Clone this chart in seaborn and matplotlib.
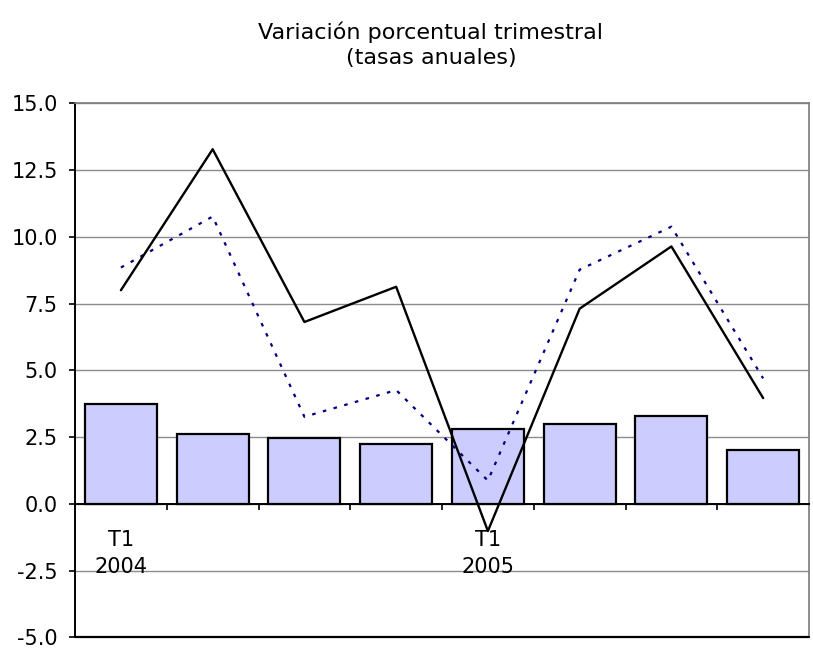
import numpy as np
import pandas as pd
import seaborn as sns
import matplotlib.pyplot as plt

# Quarterly data, T1 2004 .. T4 2005
quarters = ['T1 2004', 'T2 2004', 'T3 2004', 'T4 2004',
            'T1 2005', 'T2 2005', 'T3 2005', 'T4 2005']
tick_labels = ['T1\n2004', '', '', '', 'T1\n2005', '', '', '']
bar_values = [3.73, 2.62, 2.46, 2.24, 2.82, 2.98, 3.28, 2.01]
solid_values = [8.0, 13.28, 6.81, 8.13, -1.02, 7.31, 9.64, 3.96]
dotted_values = [8.85, 10.76, 3.26, 4.26, 0.87, 8.77, 10.38, 4.70]
y_ticks = [-5.0, -2.5, 0.0, 2.5, 5.0, 7.5, 10.0, 12.5, 15.0]


def main():
    sns.set_theme(style='white')
    plt.rcParams['font.family'] = ['DejaVu Sans']
    plt.rcParams['text.color'] = 'black'

    data = pd.DataFrame({'Trimestre': quarters, 'Barra': bar_values,
                         'Linea': solid_values, 'Punteada': dotted_values})
    data['pos'] = np.arange(len(quarters))

    fig = plt.figure(figsize=(8.13, 6.59), dpi=100)
    ax = fig.add_axes([0.0923, 0.0329, 0.9028, 0.8103])

    # gridlines behind everything
    for v in y_ticks:
        ax.axhline(v, color='#8c8c8c', lw=1, zorder=0)

    sns.barplot(data=data, x='Trimestre', y='Barra', ax=ax,
                color='#ccccff', saturation=1, width=0.785,
                edgecolor='black', linewidth=1.6, zorder=2)
    sns.lineplot(data=data, x='pos', y='Punteada', ax=ax, color='#000080',
                 lw=1.6, dashes=False, zorder=3)
    ax.lines[-1].set_dashes((1.6, 3.4))
    sns.lineplot(data=data, x='pos', y='Linea', ax=ax, color='black',
                 lw=1.7, zorder=4)

    ax.set_xlim(-0.5, len(quarters) - 0.5)
    ax.set_ylim(-5, 15)
    ax.set_yticks(y_ticks)
    ax.set_yticklabels([f'{v:.1f}' for v in y_ticks])
    ax.set_xlabel('')
    ax.set_ylabel('')

    # category axis crosses at zero
    ax.spines['bottom'].set_position(('data', 0))
    ax.spines['bottom'].set_color('black')
    ax.spines['bottom'].set_linewidth(1.4)
    ax.spines['left'].set_color('black')
    ax.spines['left'].set_linewidth(1.4)
    ax.spines['top'].set_color('#808080')
    ax.spines['right'].set_color('#808080')
    ax.axhline(-5, color='black', lw=1.6, zorder=5, clip_on=False)

    ax.set_xticks(data['pos'])
    ax.set_xticklabels(tick_labels)
    ax.set_xticks(np.arange(len(quarters) - 1) + 0.5, minor=True)
    ax.tick_params(axis='x', which='major', length=0, pad=19,
                   labelsize=15, labelcolor='black')
    ax.tick_params(axis='x', which='minor', bottom=True, length=4,
                   width=1.2, color='black', direction='out')
    for lbl in ax.get_xticklabels():
        lbl.set_linespacing(1.4)
    ax.tick_params(axis='y', left=True, length=4.5, width=1.2,
                   color='black', pad=8, labelsize=15, labelcolor='black')

    fig.text(0.530, 0.951, 'Variación porcentual trimestral',
             ha='center', va='center', fontsize=16, color='black')
    fig.text(0.530, 0.912, '(tasas anuales)',
             ha='center', va='center', fontsize=16, color='black')

    fig.savefig('out.png', dpi=100)


if __name__ == '__main__':
    main()
